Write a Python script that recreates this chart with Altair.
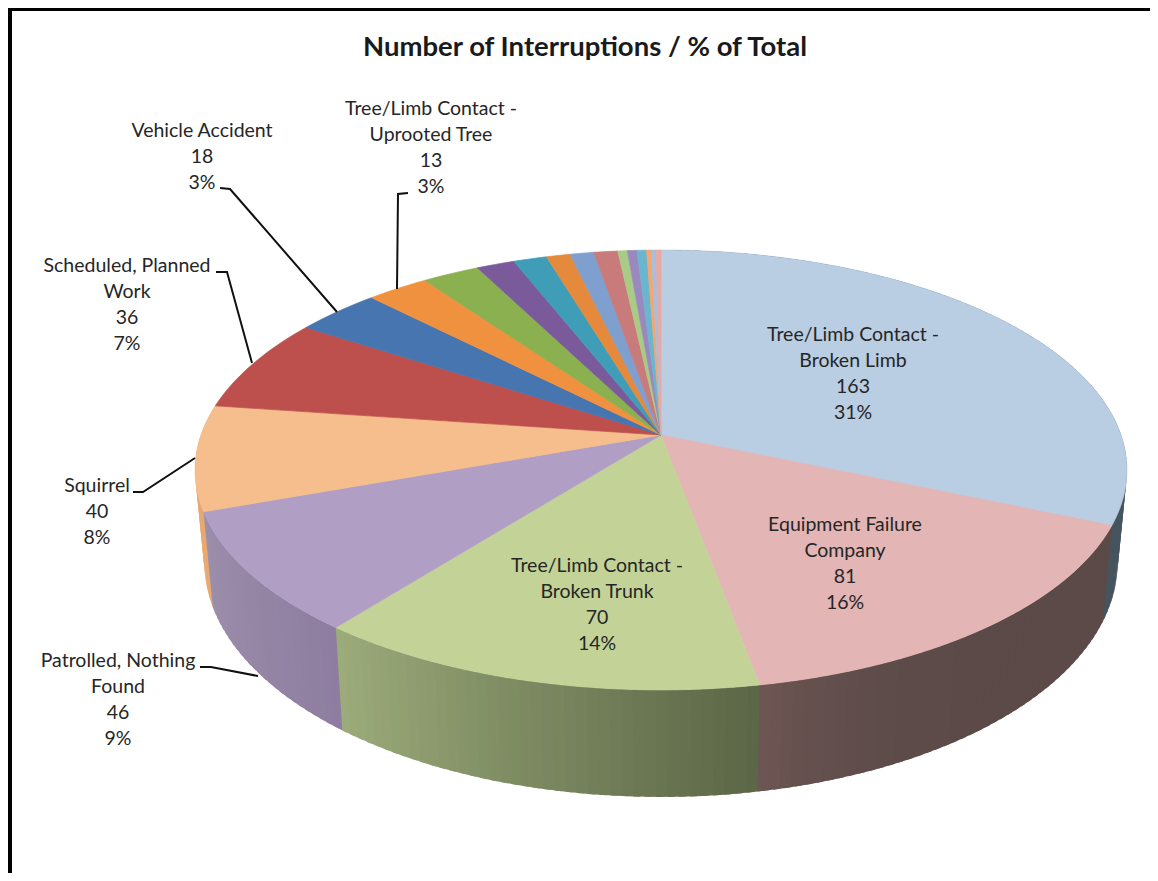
import math
import altair as alt

# ---- data ----
values = [163, 81, 70, 46, 40, 36, 18, 13, 12, 8, 7, 5, 5, 5, 2, 2, 2, 1, 1, 1]
top_colors = ["#B9CDE3", "#E3B5B4", "#C3D398", "#B09EC5", "#F6BE8C", "#BD4F4C", "#4775B0",
              "#F0913F", "#8BB050", "#7A5A9B", "#3F9DB8", "#E58A3C", "#7F9FCF", "#C97A7A",
              "#A9CB86", "#9B88BE", "#6CB5CF", "#F4A66F", "#A9BDDE", "#E8A9A0"]
wall_start = {0: "#4A5A66", 1: "#5B4A48", 2: "#5B6646", 3: "#8E7DA0", 4: "#E8A870"}
wall_end = {0: "#46545E", 1: "#6E5654", 2: "#9DAC7B", 3: "#9C8FAB", 4: "#E8A870"}
wall_gamma = {0: 1, 1: 6, 2: 1, 3: 1, 4: 1}
wall_order = [4, 3, 2, 0, 1]

title_text = "Number of Interruptions / % of Total"
label_names = {
    0: ["Tree/Limb Contact -", "Broken Limb"],
    1: ["Equipment Failure", "Company"],
    2: ["Tree/Limb Contact -", "Broken Trunk"],
    3: ["Patrolled, Nothing", "Found"],
    4: ["Squirrel"],
    5: ["Scheduled, Planned", "Work"],
    6: ["Vehicle Accident"],
    7: ["Tree/Limb Contact -", "Uprooted Tree"],
}
label_x = {0: 853, 1: 845, 2: 597, 3: 118, 4: 97, 5: 127, 6: 202, 7: 431}
label_y = {0: 334, 1: 524, 2: 565, 3: 660, 4: 485, 5: 265, 6: 130, 7: 108}
leaders = [
    [(220, 188), (230, 189), (337, 312)],
    [(408, 193), (398, 194), (397, 289)],
    [(216, 272), (227, 272), (252, 363)],
    [(133, 492), (143, 492), (195, 458)],
    [(200, 667), (211, 667), (258, 676)],
]

# ---- layout of the tilted pie ----
W, H = 1142, 865
CX, CY, K, B, C = 661.0, 435.0, 460.0, -145.2, 0.159
DEPTH, INSET = 90.0, 0.98
total = sum(values)


def top_pt(deg):
    t = math.radians(deg)
    u, v = math.sin(t), math.cos(t)
    d = 1 + C * v
    return (CX + K * u / d, (CY + B * v) / d)


def low_pt(deg):
    x, y = top_pt(deg)
    d = 1 + C * math.cos(math.radians(deg))
    return (CX + (x - CX) * INSET, y + DEPTH / d)


def mix(a, b, f):
    ca = [int(a[i:i + 2], 16) for i in (1, 3, 5)]
    cb = [int(b[i:i + 2], 16) for i in (1, 3, 5)]
    return "#%02x%02x%02x" % tuple(round(p + (q - p) * f) for p, q in zip(ca, cb))


def feature(ring, color, stroke):
    ring = [list(p) for p in ring]
    ring.append(ring[0])
    return {"type": "Feature", "properties": {"fill": color, "sw": stroke},
            "geometry": {"type": "Polygon", "coordinates": [ring]}}


bounds = [sum(values[:i]) / total * 360 for i in range(len(values) + 1)]
tops, walls = [], []
for i in range(len(values)):
    a0, a1 = bounds[i], bounds[i + 1]
    n = max(2, int((a1 - a0) / 1.2))
    ang = [a0 + (a1 - a0) * j / n for j in range(n + 1)]
    tops.append(feature([(CX, CY)] + [top_pt(a) for a in ang], top_colors[i], 0.7))

for i in wall_order:
    a0, a1 = bounds[i], bounds[i + 1]
    n = max(2, int((a1 - a0) / 1.2))
    step = (a1 - a0) / n
    idx = range(n) if i in (0, 1) else range(n - 1, -1, -1)
    for j in idx:
        s, e = a0 + j * step, a0 + (j + 1) * step
        col = mix(wall_start[i], wall_end[i], ((j + 0.5) / n) ** wall_gamma[i])
        # each strip runs a little under the one painted after it, so no seams show
        if i in (0, 1):
            if not (i == 1 and j == n - 1):
                e += step * 0.6
        else:
            s -= step * 0.6
        ring = [top_pt(s), top_pt(e), low_pt(e), low_pt(s)]
        walls.append(feature(ring, col, 0))
features = walls + tops

xs = alt.Scale(domain=[8, 8 + W], range=[0, W])
ys = alt.Scale(domain=[8, 8 + H], range=[0, H])
px = alt.X("x:Q", scale=xs, axis=None)
py = alt.Y("y:Q", scale=ys, axis=None)

pie = alt.Chart(alt.Data(values={"type": "FeatureCollection", "features": features},
                         format=alt.DataFormat(property="features"))).mark_geoshape().encode(
    fill=alt.Fill("properties.fill:N", scale=None),
    stroke=alt.Stroke("properties.fill:N", scale=None),
    strokeWidth=alt.StrokeWidth("properties.sw:Q", scale=None),
).project(type="identity", scale=1, translate=[-8, -8])

rows = []
LINE = 26
for i, names in label_names.items():
    lines = names + [str(values[i]), f"{round(values[i] / total * 100)}%"]
    for j, s in enumerate(lines):
        rows.append({"x": label_x[i], "y": label_y[i] + j * LINE, "t": s})
labels = alt.Chart(alt.Data(values=rows)).mark_text(
    font="Lato", fontSize=19.5, color="#262626", align="center", baseline="middle", dy=1
).encode(x=px, y=py, text="t:N")

title = alt.Chart(alt.Data(values=[{"x": 585, "y": 47, "t": title_text}])).mark_text(
    font="Lato", fontSize=27.5, fontWeight="bold", color="#1a1a1a", align="center", baseline="middle", dy=1
).encode(x=px, y=py, text="t:N")

lead_rows = [{"k": k, "o": o, "x": p[0], "y": p[1]} for k, pts in enumerate(leaders) for o, p in enumerate(pts)]
lead = alt.Chart(alt.Data(values=lead_rows)).mark_line(color="#111111", strokeWidth=2).encode(
    x=px, y=py, detail="k:N", order="o:Q"
)

frame_rows = [
    {"x": 8, "x2": 8 + W, "y": 8, "y2": 11},
    {"x": 8, "x2": 12, "y": 8, "y2": 8 + H},
]
frame = alt.Chart(alt.Data(values=frame_rows)).mark_rect(color="#000000").encode(
    x=px, y=py, x2="x2:Q", y2="y2:Q"
)

chart = alt.layer(pie, lead, labels, title, frame).properties(
    width=W, height=H, padding=0, background="#ffffff"
).configure_view(stroke=None)

chart.save("out.html", embed_options={"renderer": "svg", "actions": False})
